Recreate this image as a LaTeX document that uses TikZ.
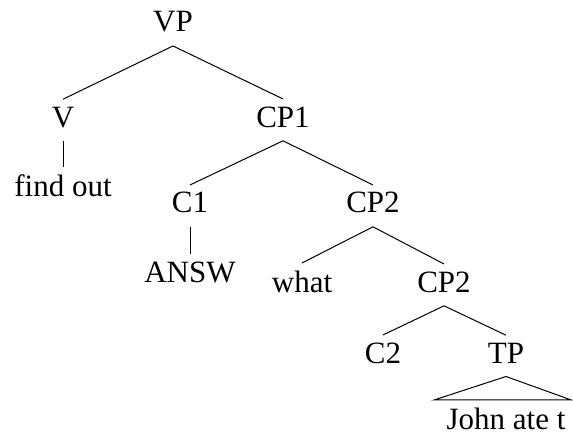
\documentclass[tikz,border=0pt]{standalone}
\usepackage{fontspec}
\setmainfont{Liberation Serif}
\usepackage{tikz}

\begin{document}
\begin{tikzpicture}[x=0.5pt, y=-0.5pt, line width=0.5pt,
    every node/.style={anchor=base, inner xsep=0pt, inner ysep=3.5pt, font=\fontsize{15.5}{18}\selectfont}]
    \useasboundingbox (0,0) rectangle (573,433);
    % nodes at their baselines
    \node (vp) at (173,32) {VP};
    \node (v) at (63,127) {V};
    \node (cp1) at (283,127) {CP1};
    \node (find) at (63,196) {find out};
    \node (c1) at (190,213) {C1};
    \node (cpa) at (373,213) {CP2};
    \node (answ) at (190,282) {ANSW};
    \node (what) at (302,292) {what};
    \node (cpb) at (444,292) {CP2};
    \node (c2) at (383,363) {C2};
    \node (tp) at (506,363) {TP};
    \node (john) at (506,429) {John ate t};
    % branches
    \draw ([yshift=-3pt]vp.south) -- (v.north);
    \draw ([yshift=-3pt]vp.south) -- (cp1.north);
    \draw ([yshift=-3pt]v.south) -- (find.north);
    \draw ([yshift=-3pt]cp1.south) -- (c1.north);
    \draw ([yshift=-3pt]cp1.south) -- (cpa.north);
    \draw ([yshift=-3pt]c1.south) -- (answ.north);
    \draw ([yshift=-3pt]cpa.south) -- (what.north);
    \draw ([yshift=-3pt]cpa.south) -- (cpb.north);
    \draw ([yshift=-3pt]cpb.south) -- (c2.north);
    \draw ([yshift=-3pt]cpb.south) -- (tp.north);
    % roof over the TP
    \draw ([yshift=-3pt]tp.south) -- ([xshift=-6pt,yshift=0pt]john.north west)
        -- ([xshift=2.7pt,yshift=0pt]john.north east) -- cycle;
\end{tikzpicture}
\end{document}
